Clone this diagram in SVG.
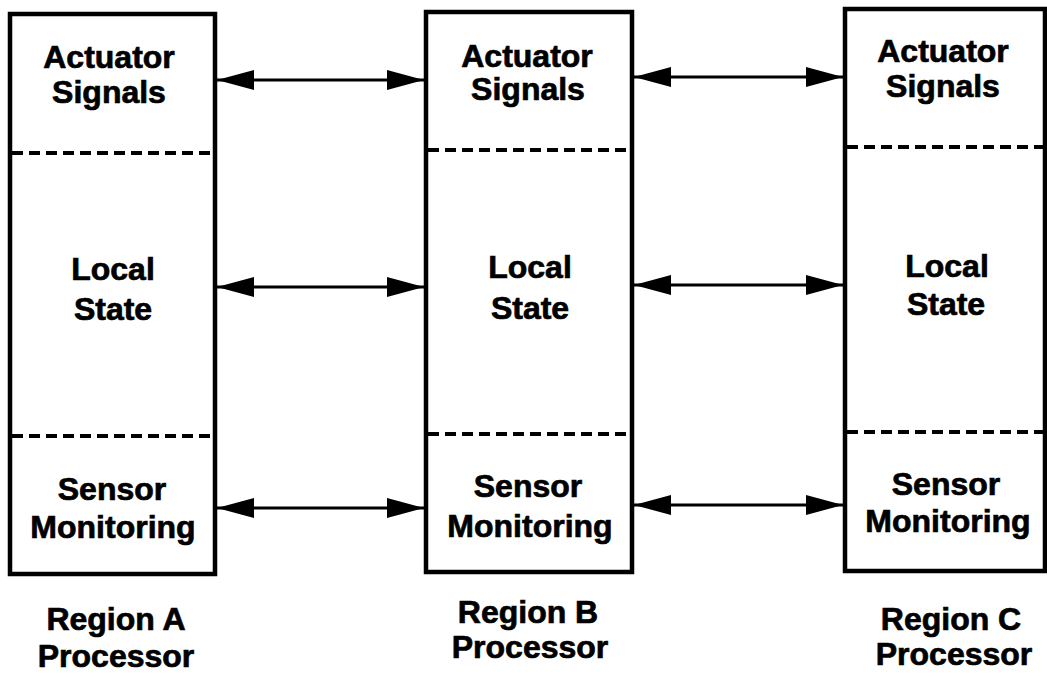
<svg xmlns="http://www.w3.org/2000/svg" width="1047" height="677" viewBox="0 0 1047 677">
<style>
.box{fill:#fff;stroke:#000;stroke-width:4.5}
.dash{stroke:#000;stroke-width:4;stroke-dasharray:11 6;fill:none}
.lbl{font-family:"Liberation Sans",Arial,sans-serif;font-weight:bold;font-size:32px;fill:#000;stroke:#000;stroke-width:0.7;text-anchor:middle}
.conn{stroke:#000;stroke-width:3;fill:none;marker-start:url(#ah);marker-end:url(#ah)}
</style>
<defs>
<marker id="ah" viewBox="0 0 37 20" refX="37" refY="10" markerWidth="37" markerHeight="20" markerUnits="userSpaceOnUse" orient="auto-start-reverse">
<path d="M0,0 L37,10 L0,20 Z" fill="#000"/>
</marker>
</defs>
<rect width="1047" height="677" fill="#fff"/>
<g id="regionA">
<rect class="box" x="10" y="14" width="205" height="560"/>
<line class="dash" x1="12" y1="153" x2="213" y2="153"/>
<line class="dash" x1="12" y1="436" x2="213" y2="436"/>
<text class="lbl" x="109" y="68">Actuator</text>
<text class="lbl" x="109" y="103">Signals</text>
<text class="lbl" x="113" y="280">Local</text>
<text class="lbl" x="113" y="320">State</text>
<text class="lbl" x="112" y="500">Sensor</text>
<text class="lbl" x="113" y="538">Monitoring</text>
<text class="lbl" x="116" y="630">Region A</text>
<text class="lbl" x="116" y="667">Processor</text>
</g>
<g id="regionB">
<rect class="box" x="426" y="12" width="206" height="560"/>
<line class="dash" x1="428" y1="150" x2="630" y2="150"/>
<line class="dash" x1="428" y1="434" x2="630" y2="434"/>
<text class="lbl" x="527" y="67">Actuator</text>
<text class="lbl" x="528" y="100">Signals</text>
<text class="lbl" x="530" y="278">Local</text>
<text class="lbl" x="530" y="319">State</text>
<text class="lbl" x="528" y="497">Sensor</text>
<text class="lbl" x="530" y="537">Monitoring</text>
<text class="lbl" x="528" y="623">Region B</text>
<text class="lbl" x="530" y="658">Processor</text>
</g>
<g id="regionC">
<rect class="box" x="845" y="9" width="200" height="562"/>
<line class="dash" x1="847" y1="147" x2="1045" y2="147"/>
<line class="dash" x1="847" y1="432" x2="1045" y2="432"/>
<text class="lbl" x="943" y="62">Actuator</text>
<text class="lbl" x="943" y="97">Signals</text>
<text class="lbl" x="947" y="277">Local</text>
<text class="lbl" x="946" y="315">State</text>
<text class="lbl" x="946" y="495">Sensor</text>
<text class="lbl" x="948" y="532">Monitoring</text>
<text class="lbl" x="951" y="630">Region C</text>
<text class="lbl" x="954" y="665">Processor</text>
</g>
<g id="connectors">
<line class="conn" x1="217" y1="80" x2="424" y2="80"/>
<line class="conn" x1="217" y1="287" x2="424" y2="287"/>
<line class="conn" x1="217" y1="508" x2="424" y2="508"/>
<line class="conn" x1="634" y1="77" x2="843" y2="77"/>
<line class="conn" x1="634" y1="285" x2="843" y2="285"/>
<line class="conn" x1="634" y1="505" x2="843" y2="505"/>
</g>
</svg>
